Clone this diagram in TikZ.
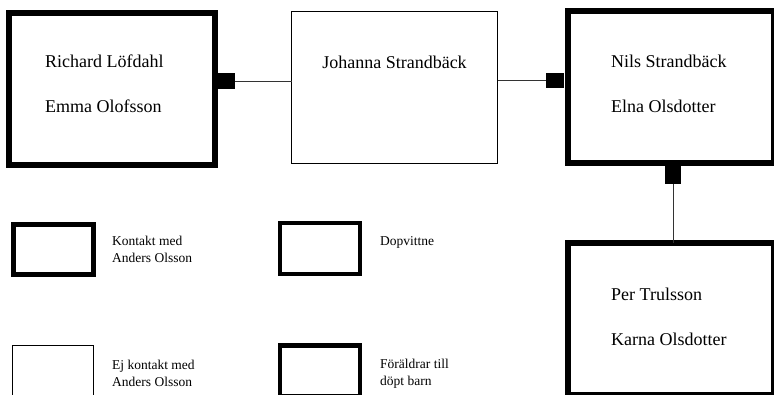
\documentclass[tikz,border=0pt]{standalone}
\usepackage{fontspec}
\setmainfont{Liberation Serif}
\usetikzlibrary{positioning}

\begin{document}
\begin{tikzpicture}[x=1pt, y=-1pt,
  famthick/.style={draw, line width=5.5pt, inner sep=0pt, outer sep=0pt,
    minimum width=206pt, minimum height=152pt},
  famthin/.style={famthick, line width=1pt},
  knot/.style={fill=black, inner sep=0pt, outer sep=0pt, minimum width=16pt, minimum height=16pt},
  link/.style={draw=black!80, line width=0.9pt},
  names/.style={anchor=base west, inner sep=0pt, align=left, font=\fontsize{18}{45}\selectfont},
  keybox/.style={draw, line width=4.75pt, inner sep=0pt, outer sep=0pt,
    minimum width=80pt, minimum height=51pt},
  keytext/.style={anchor=base west, inner sep=0pt, align=left, font=\fontsize{13.5}{17}\selectfont}]
  \clip (0, 0) rectangle (774, 394);
  % families
  \node[famthick] (lofdahl) at (112, 89) {};
  \node[famthin] (johanna) at (394.5, 87) {};
  \node[famthick, line width=6pt] (strandback) at (671, 87) {};
  \node[famthick, line width=6pt] (trulsson) at (671, 318.5) {};
  \node[names] (lofdahlnames) at (45, 112) {Richard Löfdahl\\Emma Olofsson};
  \node[names, anchor=base] (johannaname) at (394.5, 68) {Johanna Strandbäck};
  \node[names] (strandbacknames) at (611, 112) {Nils Strandbäck\\Elna Olsdotter};
  \node[names] (trulssonnames) at (611, 345) {Per Trulsson\\Karna Olsdotter};
  % knots and links
  \node[knot, minimum width=17pt] (knotA) at (226.5, 81) {};
  \node[knot, minimum width=18pt, minimum height=15pt] (knotB) at (555, 80.5) {};
  \node[knot, minimum height=18pt] (knotC) at (673, 175) {};
  \draw[link] (knotA.east) -- (knotA.east -| johanna.west);
  \draw[link] (johanna.east |- knotB.west) -- (knotB.west);
  \draw[link] (knotC.south) -- (knotC.south |- trulsson.north);
  % legend
  \node[keybox, line width=5pt, minimum height=50pt] (keycontact) at (53.5, 249.5) {};
  \node[keybox, line width=1pt, minimum width=81pt, minimum height=55pt] (keynocontact) at (52.5, 372.5) {};
  \node[keybox] (keywitness) at (320, 248.5) {};
  \node[keybox] (keyparents) at (320, 371) {};
  \node[keytext] (contacttext) at (112, 262) {Kontakt med\\Anders Olsson};
  \node[keytext] (nocontacttext) at (112, 386) {Ej kontakt med\\Anders Olsson};
  \node[keytext] (witnesstext) at (380, 245) {Dopvittne};
  \node[keytext] (parentstext) at (380, 385) {Föräldrar till\\döpt barn};
\end{tikzpicture}
\end{document}
